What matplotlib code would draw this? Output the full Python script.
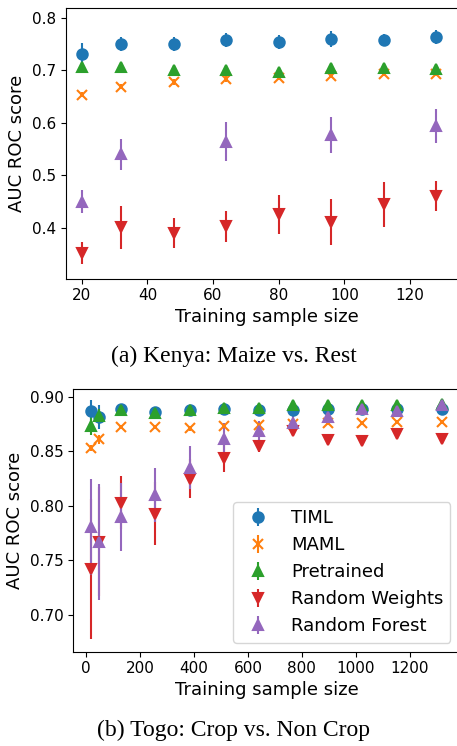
import numpy as np
import matplotlib
matplotlib.use('Agg')
import matplotlib.pyplot as plt

# Kenya: Maize vs. Rest
kenya_n = [20, 32, 48, 64, 80, 96, 112, 128]
kenya_timl = [0.731, 0.751, 0.750, 0.758, 0.754, 0.760, 0.759, 0.764]
kenya_timl_err = [0.022, 0.013, 0.013, 0.013, 0.013, 0.015, 0.011, 0.013]
kenya_maml = [0.654, 0.669, 0.678, 0.684, 0.686, 0.690, 0.693, 0.693]
kenya_maml_err = [0.005, 0.005, 0.005, 0.005, 0.005, 0.005, 0.004, 0.004]
kenya_pre = [0.706, 0.706, 0.700, 0.701, 0.698, 0.704, 0.704, 0.703]
kenya_pre_err = [0.004, 0.004, 0.004, 0.004, 0.004, 0.004, 0.004, 0.004]
kenya_rw = [0.352, 0.401, 0.390, 0.403, 0.426, 0.412, 0.445, 0.461]
kenya_rw_err = [0.021, 0.041, 0.029, 0.029, 0.037, 0.044, 0.043, 0.028]
kenya_rf_n = [20, 32, 64, 96, 128]
kenya_rf = [0.450, 0.540, 0.564, 0.577, 0.594]
kenya_rf_err = [0.022, 0.030, 0.037, 0.034, 0.032]

# Togo: Crop vs. Non Crop
togo_n = [20, 50, 128, 256, 384, 512, 640, 768, 896, 1024, 1152, 1318]
togo_timl = [0.887, 0.881, 0.889, 0.886, 0.888, 0.889, 0.888, 0.888, 0.889, 0.889, 0.889, 0.889]
togo_timl_err = [0.010, 0.011, 0.002, 0.002, 0.002, 0.002, 0.002, 0.002, 0.002, 0.002, 0.002, 0.002]
togo_maml = [0.853, 0.861, 0.872, 0.872, 0.871, 0.873, 0.874, 0.875, 0.876, 0.876, 0.877, 0.877]
togo_maml_err = [0.003, 0.004, 0.002, 0.002, 0.002, 0.002, 0.002, 0.002, 0.002, 0.002, 0.002, 0.002]
togo_pre = [0.873, 0.882, 0.888, 0.885, 0.888, 0.890, 0.890, 0.892, 0.892, 0.892, 0.892, 0.893]
togo_pre_err = [0.008, 0.007, 0.002, 0.002, 0.002, 0.002, 0.002, 0.002, 0.002, 0.002, 0.002, 0.002]
togo_rw = [0.742, 0.767, 0.803, 0.793, 0.825, 0.844, 0.855, 0.869, 0.860, 0.859, 0.866, 0.861]
togo_rw_err = [0.064, 0.050, 0.024, 0.029, 0.018, 0.013, 0.006, 0.003, 0.002, 0.002, 0.002, 0.002]
togo_rf = [0.781, 0.767, 0.790, 0.810, 0.835, 0.861, 0.869, 0.876, 0.881, 0.889, 0.887, 0.892]
togo_rf_err = [0.044, 0.053, 0.031, 0.025, 0.020, 0.015, 0.009, 0.006, 0.004, 0.002, 0.002, 0.002]

labels = ['TIML', 'MAML', 'Pretrained', 'Random Weights', 'Random Forest']
fmts = ['o', 'x', '^', 'v', '^']

fig = plt.figure(figsize=(4.57, 7.46), dpi=100)
ax1 = fig.add_axes([0.1444, 0.6264, 0.88, 0.3625])
ax2 = fig.add_axes([0.1604, 0.1264, 0.845, 0.3522])

kenya = [(kenya_n, kenya_timl, kenya_timl_err), (kenya_n, kenya_maml, kenya_maml_err),
         (kenya_n, kenya_pre, kenya_pre_err), (kenya_n, kenya_rw, kenya_rw_err),
         (kenya_rf_n, kenya_rf, kenya_rf_err)]
togo = [(togo_n, togo_timl, togo_timl_err), (togo_n, togo_maml, togo_maml_err),
        (togo_n, togo_pre, togo_pre_err), (togo_n, togo_rw, togo_rw_err),
        (togo_n, togo_rf, togo_rf_err)]

for ax, series in [(ax1, kenya), (ax2, togo)]:
    for (x, y, e), lab, f in zip(series, labels, fmts):
        ax.errorbar(x, y, yerr=e, fmt=f, ms=7.5, mew=1.5, label=lab)
    ax.set_xlabel('Training sample size', fontsize=13, labelpad=3)
    ax.set_ylabel('AUC ROC score', fontsize=13)
    ax.tick_params(labelsize=11)

# top panel runs past the right edge of the image
ax1.set_xlim(15.2, 20 + (0.1444 + 0.88) * 457 / 3.283 - 81.7 / 3.283)
ax1.set_ylim(0.3034, 0.8185)
ax1.set_xticks([20, 40, 60, 80, 100, 120])
ax1.set_yticks([0.4, 0.5, 0.6, 0.7, 0.8])

ax2.set_xlim(-47, 1384)
ax2.set_ylim(0.6664, 0.9071)
ax2.set_xticks([0, 200, 400, 600, 800, 1000, 1200])
ax2.set_yticks([0.70, 0.75, 0.80, 0.85, 0.90])
ax2.legend(loc='lower right', fontsize=13)

fig.text(0.512, 1 - 356/746, '(a) Kenya: Maize vs. Rest', ha='center', va='center',
         family='Liberation Serif', fontsize=17)
fig.text(0.512, 1 - 730/746, '(b) Togo: Crop vs. Non Crop', ha='center', va='center',
         family='Liberation Serif', fontsize=17)

plt.savefig('out.png', dpi=100)
plt.close()
